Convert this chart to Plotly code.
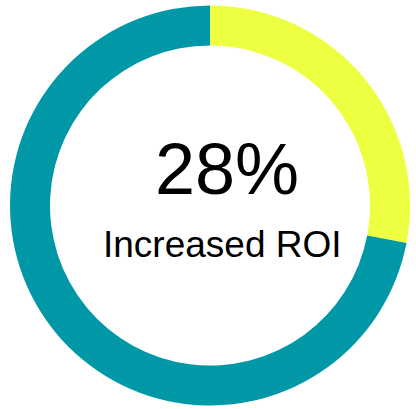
import plotly.graph_objects as go

labels = ["Increased ROI", "Other"]
values = [28, 72]
colors = ["#EEFF41", "#0097A7"]
headline = "28%"
caption = "Increased ROI"

W, H = 416, 409
fig = go.Figure(go.Pie(
    labels=labels, values=values, hole=0.8, sort=False, direction="clockwise",
    rotation=0, marker=dict(colors=colors, line=dict(width=0)),
    textinfo="none", hoverinfo="label+percent",
    domain=dict(x=[10/W, 410/W], y=[(H-405.5)/H, (H-5.5)/H]),
))
fig.add_annotation(text=headline, x=227/W, y=1-169/H, xref="paper", yref="paper",
                   showarrow=False, font=dict(family="Liberation Sans, Arial", size=72, color="#000"),
                   xanchor="center", yanchor="middle")
fig.add_annotation(text=caption, x=222/W, y=1-244/H, xref="paper", yref="paper",
                   showarrow=False, font=dict(family="Liberation Sans, Arial", size=37, color="#000"),
                   xanchor="center", yanchor="middle")
fig.update_layout(width=W, height=H, margin=dict(l=0, r=0, t=0, b=0), showlegend=False,
                  paper_bgcolor="white", plot_bgcolor="white")
fig.write_html("out.html", config={"displayModeBar": False},
               post_script="document.body.style.margin='0';")
